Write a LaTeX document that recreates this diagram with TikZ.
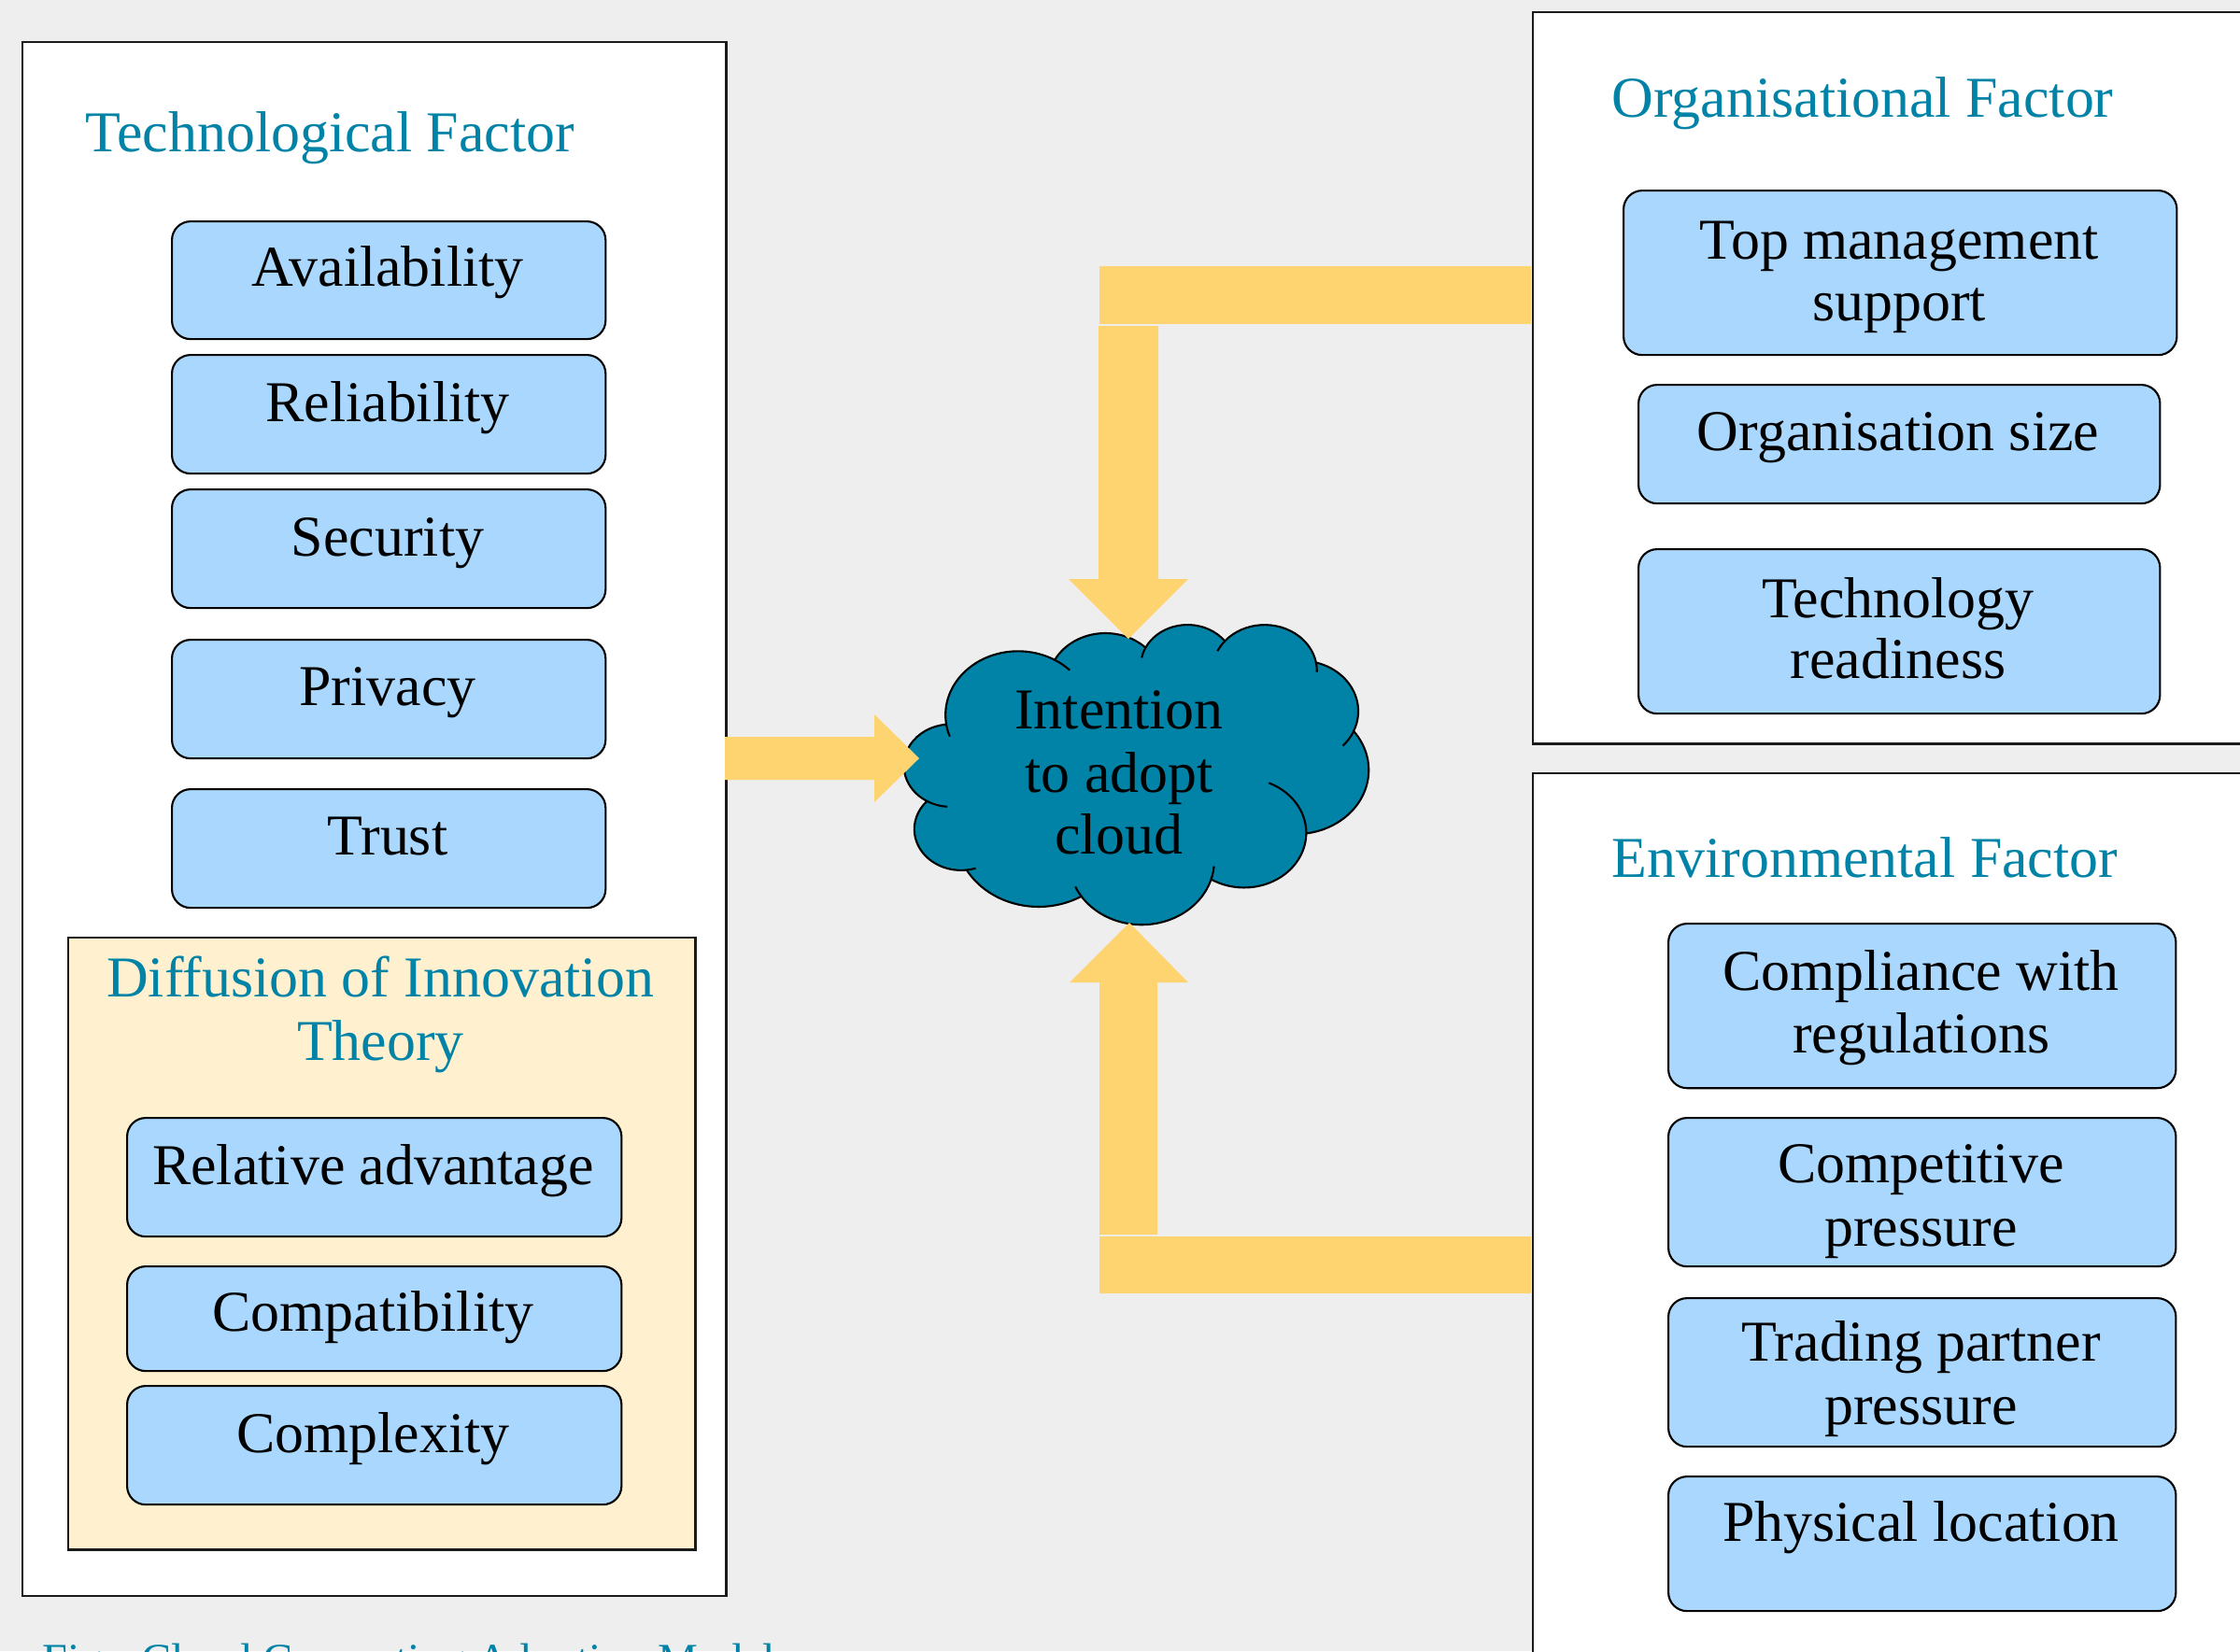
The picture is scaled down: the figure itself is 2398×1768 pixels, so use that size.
\documentclass[tikz,border=0pt]{standalone}
\usepackage{fontspec}
\setmainfont{Liberation Serif}
\definecolor{bgc}{HTML}{EEEEEE}
\definecolor{tealc}{HTML}{0083A6}
\definecolor{bluec}{HTML}{A9D7FE}
\definecolor{creamc}{HTML}{FFF1CF}
\definecolor{yelc}{HTML}{FED470}
\definecolor{linec}{HTML}{1A1A1A}
% parametric angle of an ellipse point given its visual angle
\newcommand\parang[4]{%
  \pgfmathsetmacro\pgtmpd{atan2((#2)*sin(#4),(#3)*cos(#4))-(#4)}%
  \pgfmathsetmacro\pgtmpd{\pgtmpd-360*round(\pgtmpd/360)}%
  \pgfmathsetmacro#1{(#4)+\pgtmpd}%
}
\begin{document}
\begin{tikzpicture}[x=0.01cm,y=-0.01cm,
  panel/.style={draw=linec, line width=0.6pt, fill=white, anchor=north west, inner sep=0pt},
  fbox/.style={draw=black, line width=0.6pt, fill=bluec, rounded corners=0.2cm, anchor=north west, inner sep=0pt},
  lbl/.style={anchor=base, inner sep=0pt, font=\fontsize{17.6}{19}\selectfont},
  ttl/.style={lbl, anchor=base west, text=tealc},
  ttlc/.style={lbl, text=tealc},
  yel/.style={fill=yelc, draw=none},
  cloudline/.style={draw=black, line width=0.6pt},
]
\useasboundingbox (0,0) rectangle (2398,1768);
\fill[bgc] (0,0) rectangle (2398,1768);

\begin{scope}
\clip (0,0) rectangle (2398,1768);
% panels
\node[panel, minimum width=7.53cm, minimum height=16.63cm] (tech) at (23,44) {};
\node[panel, minimum width=8.0cm, minimum height=7.83cm] (org) at (1640,12) {};
\node[panel, minimum width=8.0cm, minimum height=10cm] (env) at (1640,827) {};
\node[panel, fill=creamc, minimum width=6.71cm, minimum height=6.55cm] (doi) at (72,1003) {};

% titles
\node[ttl] (ttech) at (91,162) {Technological Factor};
\node[ttl] (torg) at (1725,125) {Organisational Factor};
\node[ttl] (tenv) at (1725,939) {Environmental Factor};
\node[ttlc] (tdoi1) at (407.5,1067) {Diffusion of Innovation};
\node[ttlc] (tdoi2) at (407.5,1135) {Theory};

% technological boxes
\node[fbox, minimum width=4.64cm, minimum height=1.26cm] (b1) at (183,236) {};
\node[fbox, minimum width=4.64cm, minimum height=1.27cm] (b2) at (183,379) {};
\node[fbox, minimum width=4.64cm, minimum height=1.27cm] (b3) at (183,523) {};
\node[fbox, minimum width=4.64cm, minimum height=1.27cm] (b4) at (183,684) {};
\node[fbox, minimum width=4.64cm, minimum height=1.27cm] (b5) at (183,844) {};
\node[lbl] (l1) at (415,306) {Availability};
\node[lbl] (l2) at (415,451) {Reliability};
\node[lbl] (l3) at (415,595) {Security};
\node[lbl] (l4) at (415,755) {Privacy};
\node[lbl] (l5) at (415,915) {Trust};

% diffusion boxes
\node[fbox, minimum width=5.29cm, minimum height=1.27cm] (d1) at (135,1196) {};
\node[fbox, minimum width=5.29cm, minimum height=1.12cm] (d2) at (135,1355) {};
\node[fbox, minimum width=5.29cm, minimum height=1.27cm] (d3) at (135,1483) {};
\node[lbl] (m1) at (399.5,1268) {Relative advantage};
\node[lbl] (m2) at (399.5,1425) {Compatibility};
\node[lbl] (m3) at (399.5,1555) {Complexity};

% organisational boxes
\node[fbox, minimum width=5.92cm, minimum height=1.76cm] (o1) at (1737,203) {};
\node[fbox, minimum width=5.58cm, minimum height=1.27cm] (o2) at (1753,411) {};
\node[fbox, minimum width=5.58cm, minimum height=1.76cm] (o3) at (1753,587) {};
\node[lbl] (p1a) at (2033,277) {Top management};
\node[lbl] (p1b) at (2033,343) {support};
\node[lbl] (p2) at (2032,482) {Organisation size};
\node[lbl] (p3a) at (2032,661) {Technology};
\node[lbl] (p3b) at (2032,726) {readiness};

% environmental boxes
\node[fbox, minimum width=5.43cm, minimum height=1.76cm] (e1) at (1785,988) {};
\node[fbox, minimum width=5.43cm, minimum height=1.59cm] (e2) at (1785,1196) {};
\node[fbox, minimum width=5.43cm, minimum height=1.59cm] (e3) at (1785,1389) {};
\node[fbox, minimum width=5.43cm, minimum height=1.44cm] (e4) at (1785,1580) {};
\node[lbl] (q1a) at (2056.5,1060) {Compliance with};
\node[lbl] (q1b) at (2056.5,1127) {regulations};
\node[lbl] (q2a) at (2056.5,1266) {Competitive};
\node[lbl] (q2b) at (2056.5,1334) {pressure};
\node[lbl] (q3a) at (2056.5,1457) {Trading partner};
\node[lbl] (q3b) at (2056.5,1525) {pressure};
\node[lbl] (q4) at (2056.5,1650) {Physical location};

% caption (cut off by the lower edge)
\node[anchor=base west, inner sep=0pt, text=tealc, font=\fontsize{13.7}{16}\selectfont] (cap) at (45,1793) {Fig.: Cloud Computing Adoption Model};
\end{scope}

% cloud
\parang\cldsA{67.53}{91.90}{-190.4875}\parang\cldeA{67.53}{91.90}{-66.7070}
\parang\cldsB{53.33}{72.67}{-144.1024}\parang\cldeB{53.33}{72.67}{-54.1572}
\parang\cldsC{43.65}{59.45}{-145.8079}\parang\cldeC{43.65}{59.45}{-46.0849}
\parang\cldsD{48.57}{65.95}{-130.9861}\parang\cldeD{48.57}{65.95}{-13.7444}
\parang\cldsE{53.33}{72.73}{-78.7089}\parang\cldeE{53.33}{72.73}{30.3180}
\parang\cldsF{67.75}{92.20}{-46.2673}\parang\cldeF{67.75}{92.20}{84.0017}
\parang\cldsG{57.85}{78.67}{0.6250}\parang\cldeG{57.85}{78.67}{114.6583}
\parang\cldsH{67.52}{92.15}{22.4516}\parang\cldeH{67.52}{92.15}{137.6242}
\parang\cldsI{77.20}{105.43}{66.2426}\parang\cldeI{77.20}{105.43}{141.9537}
\parang\cldsJ{43.60}{59.18}{-274.9421}\parang\cldeJ{43.60}{59.18}{-128.2065}
\parang\cldsK{43.45}{59.45}{-246.8285}\parang\cldeK{43.45}{59.45}{-94.3097}
\begin{scope}[shift={(968,668)}, xscale=1.1505, yscale=0.7431]
\filldraw[fill=tealc, cloudline] (39,143.7) coordinate (J0)
  arc[start angle=\cldsA, end angle=\cldeA, x radius=67.53, y radius=91.90] coordinate (J1)
  arc[start angle=\cldsB, end angle=\cldeB, x radius=53.33, y radius=72.67] coordinate (J2)
  arc[start angle=\cldsC, end angle=\cldeC, x radius=43.65, y radius=59.45] coordinate (J3)
  arc[start angle=\cldsD, end angle=\cldeD, x radius=48.57, y radius=65.95] coordinate (J4)
  arc[start angle=\cldsE, end angle=\cldeE, x radius=53.33, y radius=72.73] coordinate (J5)
  arc[start angle=\cldsF, end angle=\cldeF, x radius=67.75, y radius=92.20] coordinate (J6)
  arc[start angle=\cldsG, end angle=\cldeG, x radius=57.85, y radius=78.67] coordinate (J7)
  arc[start angle=\cldsH, end angle=\cldeH, x radius=67.52, y radius=92.15] coordinate (J8)
  arc[start angle=\cldsI, end angle=\cldeI, x radius=77.20, y radius=105.43] coordinate (J9)
  arc[start angle=\cldsJ, end angle=\cldeJ, x radius=43.60, y radius=59.18] coordinate (J10)
  arc[start angle=\cldsK, end angle=\cldeK, x radius=43.45, y radius=59.45] -- cycle;
% interior puff strokes
\draw[cloudline] (J0) arc[start angle=\cldsA, delta angle=-12, x radius=67.53, y radius=91.90];
\draw[cloudline] (J1) arc[start angle=\cldeA, delta angle=15, x radius=67.53, y radius=91.90];
\draw[cloudline] (J2) arc[start angle=\cldsC, delta angle=-15, x radius=43.65, y radius=59.45];
\draw[cloudline] (J3) arc[start angle=\cldsD, delta angle=-15, x radius=48.57, y radius=65.95];
\draw[cloudline] (J4) arc[start angle=\cldeD, delta angle=12, x radius=48.57, y radius=65.95];
\draw[cloudline] (J5) arc[start angle=\cldeE, delta angle=20, x radius=53.33, y radius=72.73];
\draw[cloudline] (J6) arc[start angle=\cldsG, delta angle=-67, x radius=57.85, y radius=78.67];
\draw[cloudline] (J7) arc[start angle=\cldsH, delta angle=-12, x radius=67.52, y radius=92.15];
\draw[cloudline] (J8) arc[start angle=\cldeH, delta angle=10, x radius=67.52, y radius=92.15];
\draw[cloudline] (J9) arc[start angle=\cldsJ, delta angle=-11.4, x radius=43.60, y radius=59.18];
\draw[cloudline] (J10) arc[start angle=\cldsK, delta angle=-26.4, x radius=43.45, y radius=59.45];
\end{scope}
\node[lbl] (c1) at (1198,780) {Intention};
\node[lbl] (c2) at (1198,848) {to adopt};
\node[lbl] (c3) at (1198,914) {cloud};

% yellow block arrows
\fill[yel] (776,789) -- (936,789) -- (936,765) -- (984,812) -- (936,859) -- (936,835) -- (776,835) -- cycle;
\fill[yel] (1177,285) rectangle (1639,347);
\fill[yel] (1176,349) -- (1240,349) -- (1240,620) -- (1272,620) -- (1208,684) -- (1144,620) -- (1176,620) -- cycle;
\fill[yel] (1177,1324) rectangle (1639,1385);
\fill[yel] (1177,1322) -- (1239,1322) -- (1239,1052) -- (1272,1052) -- (1209,988) -- (1145,1052) -- (1177,1052) -- cycle;
\end{tikzpicture}
\end{document}
